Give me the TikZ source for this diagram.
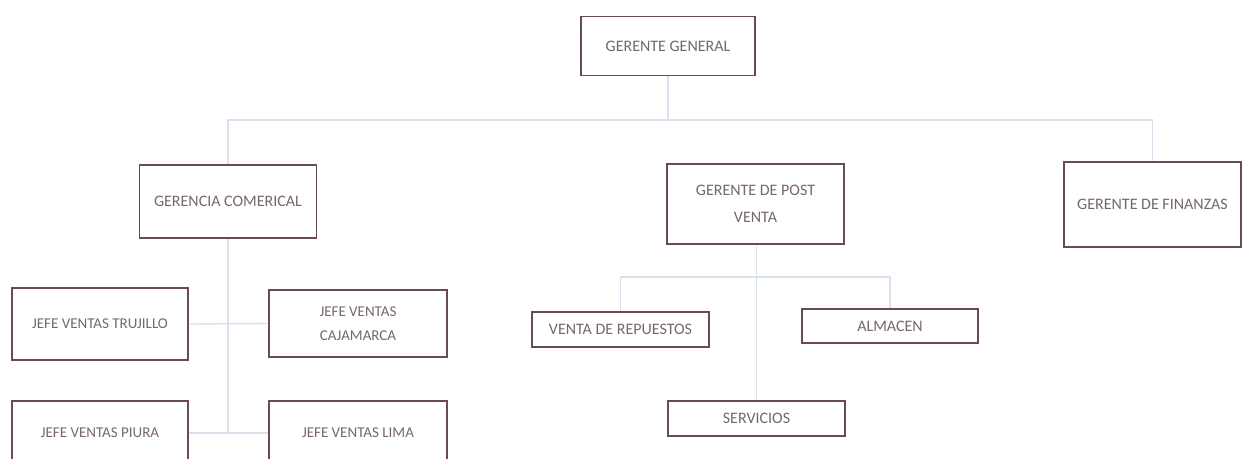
\documentclass[tikz,border=0pt]{standalone}
\usepackage{fontspec}
\setmainfont{Carlito}
\usepackage{tikz}

\definecolor{boxline}{HTML}{6B4A57}
\definecolor{boxtext}{HTML}{76666E}
\definecolor{linkline}{HTML}{D9E0EE}

\begin{document}
\begin{tikzpicture}[x=1pt, y=-1pt,
    puesto/.style={draw=boxline, line width=1.8pt, text=boxtext, align=center,
      inner sep=0pt, font=\fontsize{16}{27}\selectfont},
    jefe/.style={puesto, font=\fontsize{15}{24}\selectfont},
    enlace/.style={draw=linkline, line width=1.4pt}]
    \useasboundingbox (0,0) rectangle (1245,458);
    % cuadros
    \node[puesto, minimum width=174pt, minimum height=59pt] (gg) at (668,46) {GERENTE GENERAL};
    \node[puesto, minimum width=177pt, minimum height=73pt] (gc) at (228,201.5) {GERENCIA COMERICAL};
    \node[puesto, minimum width=177pt, minimum height=80pt] (gpv) at (755.5,204) {GERENTE DE POST\\VENTA};
    \node[puesto, minimum width=177pt, minimum height=85pt] (gf) at (1152.5,204.5) {GERENTE DE FINANZAS};
    \node[jefe, minimum width=176pt, minimum height=72pt] (jt) at (100,324) {JEFE VENTAS TRUJILLO};
    \node[jefe, minimum width=178pt, minimum height=67pt] (jc) at (358,323.5) {JEFE VENTAS\\CAJAMARCA};
    \node[jefe, minimum width=176pt, minimum height=64pt] (jp) at (100,433) {JEFE VENTAS PIURA};
    \node[jefe, minimum width=178pt, minimum height=64pt] (jl) at (358,433) {JEFE VENTAS LIMA};
    \node[puesto, minimum width=177pt, minimum height=35pt] (vr) at (620.5,329.5) {VENTA DE REPUESTOS};
    \node[puesto, minimum width=176pt, minimum height=34pt] (alm) at (890,326) {ALMACEN};
    \node[puesto, minimum width=177pt, minimum height=35pt] (srv) at (756.5,418.5) {SERVICIOS};
    % lineas
    \coordinate (bus) at (668,120);
    \coordinate (pv) at (756.5,277);
    \draw[enlace] (gg.south) -- (bus);
    \draw[enlace] (gc.north) |- (bus) -| (gf.north);
    \draw[enlace] (gc.south) -- (228,432);
    \draw[enlace] (jt.east) -- (jc.west);
    \draw[enlace] (jp.east) -- (jl.west);
    \draw[enlace] (gpv.south -| srv.north) -- (srv.north);
    \draw[enlace] (vr.north) |- (pv) -| (alm.north);
\end{tikzpicture}
\end{document}
